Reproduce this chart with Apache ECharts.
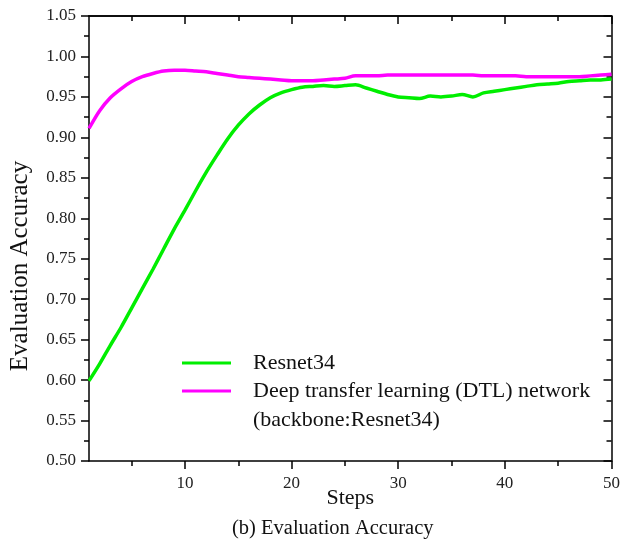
<!DOCTYPE html>
<html>
<head>
<meta charset="utf-8" />
<script src="https://cdn.jsdelivr.net/npm/echarts@6/dist/echarts.min.js"></script>
<style>
  html, body { margin: 0; padding: 0; background: #fff; }
  #main { width: 623px; height: 541px; }
</style>
</head>
<body>
<div id="main"></div>
<script type="text/javascript">
// steps on the x axis
var steps = [];
for (var s = 1; s <= 50; s++) steps.push(s);

// evaluation accuracy
var resnet34 = [
	0.599, 0.620, 0.643, 0.665, 0.689, 0.713, 0.737, 0.762, 0.787, 0.810,
	0.834, 0.857, 0.878, 0.898, 0.915, 0.929, 0.940, 0.949, 0.955, 0.959,
	0.962, 0.963, 0.964, 0.963, 0.964, 0.965, 0.961, 0.957, 0.953, 0.950,
	0.949, 0.948, 0.951, 0.950, 0.951, 0.953, 0.950, 0.955, 0.957, 0.959,
	0.961, 0.963, 0.965, 0.966, 0.967, 0.969, 0.970, 0.971, 0.971, 0.972
];
var dtl = [
	0.911, 0.933, 0.949, 0.960, 0.969, 0.975, 0.979, 0.982, 0.983, 0.983,
	0.982, 0.981, 0.979, 0.977, 0.975, 0.974, 0.973, 0.972, 0.971, 0.970,
	0.970, 0.970, 0.971, 0.972, 0.973, 0.976, 0.976, 0.976, 0.977, 0.977,
	0.977, 0.977, 0.977, 0.977, 0.977, 0.977, 0.977, 0.976, 0.976, 0.976,
	0.976, 0.975, 0.975, 0.975, 0.975, 0.975, 0.975, 0.976, 0.977, 0.978
];

var xMajor = [10, 20, 30, 40, 50];
var xMinor = [5, 15, 25, 35, 45];

var nameResnet = 'Resnet34';
var nameDtl = 'Deep transfer learning (DTL) network';
var nameDtl2 = '(backbone:Resnet34)';

function pairs(ys) {
	var out = [];
	for (var i = 0; i < steps.length; i++) out.push([steps[i], ys[i]]);
	return out;
}

var serif = 'Liberation Serif, Times New Roman, serif';
var axLine = { show: true, lineStyle: { color: '#000', width: 1.5 } };

function xAx(pos, ticks, len, inside, labels) {
	return {
		type: 'value', position: pos, min: 1, max: 50,
		axisLine: labels ? axLine : { show: pos === 'top', lineStyle: { color: '#000', width: 1.5 } },
		axisTick: { show: true, customValues: ticks, length: len, inside: inside,
			lineStyle: { color: '#000', width: 1.5 } },
		axisLabel: labels ? { show: true, customValues: xMajor, margin: 14,
			fontFamily: serif, fontSize: 17, color: '#222' } : { show: false },
		splitLine: { show: false }
	};
}

var myChart = echarts.init(document.getElementById('main'));

var option = {
	backgroundColor: '#fff',
	animation: false,
	title: {
		text: '(b) Evaluation Accuracy',
		left: 227, top: 513,
		textStyle: { fontFamily: serif, fontSize: 20.5, fontWeight: 'normal', color: '#111' }
	},
	grid: { left: 89, right: 10, top: 16, bottom: 80 },
	legend: {
		orient: 'vertical', left: 182, top: 351, padding: 0,
		itemWidth: 49, itemHeight: 3, itemGap: 4,
		icon: 'rect',
		data: [nameResnet, nameDtl],
		textStyle: { fontFamily: serif, fontSize: 22, color: '#111', lineHeight: 24,
			padding: [0, 0, 0, 17] }
	},
	graphic: [{
		type: 'text', left: 253, top: 409,
		style: { text: nameDtl2, font: '22px ' + serif, fill: '#111' }
	}, {
		type: 'text', x: 20, y: 266, rotation: Math.PI / 2,
		style: { text: 'Evaluation Accuracy', font: '25px ' + serif, fill: '#111',
			align: 'center', verticalAlign: 'middle' }
	}],
	xAxis: [
		(function () {
			var a = xAx('bottom', xMajor, 8, false, true);
			a.name = 'Steps';
			a.nameLocation = 'middle';
			a.nameGap = 26;
			a.nameMoveOverlap = false;
			a.nameTextStyle = { fontFamily: serif, fontSize: 22, color: '#111' };
			return a;
		})(),
		xAx('bottom', xMinor, 5, false, false),
		xAx('top', xMajor, 8, true, false),
		xAx('top', xMinor, 5, true, false)
	],
	yAxis: [
		{
			type: 'value', position: 'left', min: 0.5, max: 1.05, interval: 0.05,
			axisLine: axLine,
			axisTick: { show: true, length: 8, lineStyle: { color: '#000', width: 1.5 } },
			minorTick: { show: true, splitNumber: 2, length: 5, lineStyle: { color: '#000', width: 1.5 } },
			axisLabel: { margin: 13, fontFamily: serif, fontSize: 17, color: '#222',
				formatter: function (v) { return v.toFixed(2); } },
			splitLine: { show: false }
		},
		{
			type: 'value', position: 'right', min: 0.5, max: 1.05, interval: 0.05,
			axisLine: axLine,
			axisTick: { show: true, inside: true, length: 8, lineStyle: { color: '#000', width: 1.5 } },
			minorTick: { show: true, splitNumber: 2, length: 5, lineStyle: { color: '#000', width: 1.5 } },
			axisLabel: { show: false },
			splitLine: { show: false }
		}
	],
	series: [
		{
			name: nameResnet, type: 'line', data: pairs(resnet34),
			symbol: 'none', smooth: 0.3, clip: false,
			lineStyle: { color: '#00ee00', width: 3.5 }, itemStyle: { color: '#00ee00' }
		},
		{
			name: nameDtl, type: 'line', data: pairs(dtl),
			symbol: 'none', smooth: 0.3, clip: false,
			lineStyle: { color: '#ff00ff', width: 3.5 }, itemStyle: { color: '#ff00ff' }
		}
	]
};

myChart.setOption(option);
</script>
</body>
</html>
